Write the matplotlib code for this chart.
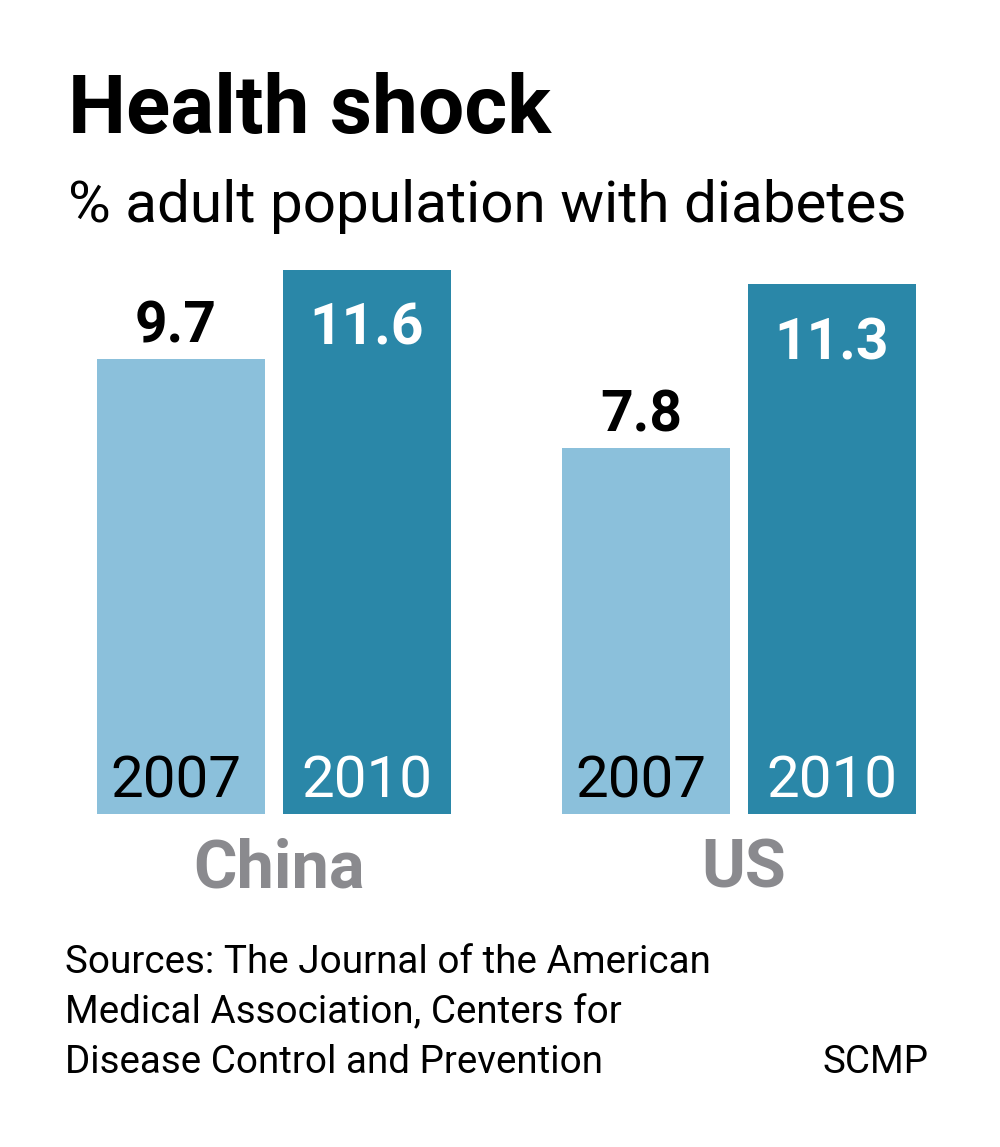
import matplotlib.pyplot as plt

# data
countries = ['China', 'US']
years = ['2007', '2010']
vals_2007 = [9.7, 7.8]
vals_2010 = [11.6, 11.3]

light = '#8bc0db'
dark = '#2a87a8'
grey = '#8a8a8e'

W, H = 1000, 1147
fam = ['Roboto', 'DejaVu Sans']

fig = plt.figure(figsize=(W / 100, H / 100), dpi=100)

# axes in pixel-like units: bottom of bars at y=814px, 46.9 px per percent
bottom_px, top_px = 814, 250
ax = fig.add_axes([0, 1 - bottom_px / H, 1, (bottom_px - top_px) / H])
ax.set_xlim(0, W)
ax.set_ylim(0, (bottom_px - top_px) / 46.9)
ax.axis('off')

group_x = [274, 739]
bw = 168
off = 93

for i, c in enumerate(countries):
    x1 = group_x[i] - off
    x2 = group_x[i] + off
    ax.bar(x1, vals_2007[i], width=bw, color=light)
    ax.bar(x2, vals_2010[i], width=bw, color=dark)

    # value labels
    ax.annotate(f'{vals_2007[i]}', (x1, vals_2007[i]), xytext=(-5, 17),
                textcoords='offset pixels', ha='center', va='baseline',
                fontsize=41, fontweight='bold', color='black', family=fam)
    ax.annotate(f'{vals_2010[i]}', (x2, vals_2010[i]), xytext=(0, -32),
                textcoords='offset pixels', ha='center', va='top',
                fontsize=41, fontweight='bold', color='white', family=fam)

    # year labels inside bars
    ax.annotate(years[0], (x1, 0), xytext=(-5, 16), textcoords='offset pixels',
                ha='center', va='baseline', fontsize=42, color='black',
                family=fam)
    ax.annotate(years[1], (x2, 0), xytext=(0, 16), textcoords='offset pixels',
                ha='center', va='baseline', fontsize=42, color='white',
                family=fam)

    # country label
    ax.annotate(c, (group_x[i], 0), xytext=(5, -74), textcoords='offset pixels',
                ha='center', va='baseline', fontsize=48, fontweight='bold',
                color=grey, family=fam, annotation_clip=False)

def fy(py):
    return 1 - py / H

fig.text(68 / W, fy(133), 'Health shock', fontsize=59, fontweight='bold',
         va='baseline', ha='left', family=fam)
fig.text(68 / W, fy(222), '% adult population with diabetes', fontsize=42,
         va='baseline', ha='left', family=fam)

src = ['Sources: The Journal of the American',
       'Medical Association, Centers for',
       'Disease Control and Prevention']
for j, line in enumerate(src):
    fig.text(65 / W, fy(973 + j * 50), line, fontsize=27.8, va='baseline',
             ha='left', family=fam)
fig.text(928 / W, fy(1073), 'SCMP', fontsize=27.8, va='baseline', ha='right',
         family=fam)

fig.savefig('out.png', dpi=100, facecolor='white')
